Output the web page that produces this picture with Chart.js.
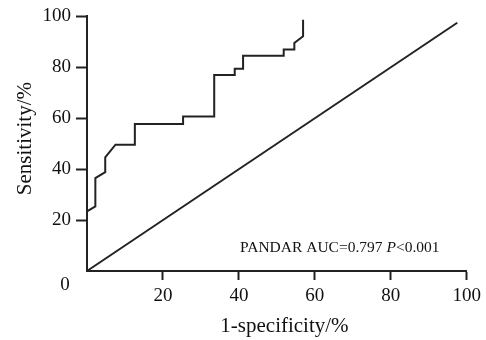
<!DOCTYPE html>
<html>
<head>
<meta charset="utf-8">
<script src="https://cdn.jsdelivr.net/npm/chart.js@4"></script>
<style>
  html, body { margin: 0; padding: 0; background: #fff; }
  #wrap { width: 486px; height: 340px; position: relative; }
</style>
</head>
<body>
<div id="wrap"><canvas id="roc"></canvas></div>
<script>
// ROC curve (1-specificity %, sensitivity %)
const fpr = [0, 2.2, 2.2, 4.8, 4.8, 7.5, 12.6, 12.6, 25.3, 25.3, 33.5, 33.5, 38.9, 38.9, 41.1, 41.1, 51.8, 51.8, 54.6, 54.6, 56.9, 56.9];
const tpr = [23.4, 25.4, 36.5, 38.8, 44.6, 49.6, 49.6, 57.7, 57.7, 60.7, 60.7, 77, 77, 79.4, 79.4, 84.5, 84.5, 87, 87, 89.6, 92.2, 98.7];

// reference line
const refX = [0, 97.5];
const refY = [0, 97.5];

const xTicks = [0, 20, 40, 60, 80, 100];
const yTicks = [0, 20, 40, 60, 80, 100];

const xTitle = "1-specificity/%";
const yTitle = "Sensitivity/%";
const aucLabel = "PANDAR AUC=0.797 ";
const pLabel = "P";
const pValue = "<0.001";

const ink = "#222";
const textInk = "#111";
const serif = "'Liberation Serif', 'DejaVu Serif', serif";

function toPoints(xs, ys) {
  return xs.map((x, i) => ({ x: x, y: ys[i] }));
}

function hideZero(ctx) {
  return ctx.tick && ctx.tick.value === 0 ? "rgba(0,0,0,0)" : ink;
}

// titles, the lone "0" and the AUC note
const textPlugin = {
  id: "rocText",
  afterDraw(chart) {
    const { ctx, scales } = chart;
    const xs = scales.x;
    const ys = scales.y;
    ctx.save();
    ctx.fillStyle = textInk;

    ctx.font = "19px " + serif;
    ctx.textAlign = "center";
    ctx.textBaseline = "middle";
    ctx.fillText("0", xs.getPixelForValue(0) - 22, ys.getPixelForValue(0) + 14);

    ctx.font = "21px " + serif;
    ctx.fillText(xTitle, xs.getPixelForValue(52), 326);

    ctx.translate(25, ys.getPixelForValue(52));
    ctx.rotate(-Math.PI / 2);
    ctx.fillText(yTitle, 0, 0);
    ctx.setTransform(1, 0, 0, 1, 0, 0);

    ctx.textAlign = "left";
    let x = xs.getPixelForValue(40.3);
    const y = ys.getPixelForValue(9.2);
    ctx.font = "15.5px " + serif;
    ctx.fillText(aucLabel, x, y);
    x += ctx.measureText(aucLabel).width;
    ctx.font = "italic 15.5px " + serif;
    ctx.fillText(pLabel, x, y);
    x += ctx.measureText(pLabel).width;
    ctx.font = "15.5px " + serif;
    ctx.fillText(pValue, x, y);
    ctx.restore();
  },
};

new Chart(document.getElementById("roc"), {
  type: "scatter",
  data: {
    datasets: [
      {
        data: toPoints(fpr, tpr),
        showLine: true,
        borderColor: ink,
        borderWidth: 2,
        pointRadius: 0,
        tension: 0,
        clip: false,
      },
      {
        data: toPoints(refX, refY),
        showLine: true,
        borderColor: ink,
        borderWidth: 2,
        pointRadius: 0,
        tension: 0,
        clip: false,
      },
    ],
  },
  options: {
    responsive: true,
    maintainAspectRatio: false,
    animation: false,
    layout: { padding: { top: 15, right: 19, left: 0, bottom: 0 } },
    plugins: {
      legend: { display: false },
      tooltip: { enabled: false },
    },
    scales: {
      x: {
        type: "linear",
        min: 0,
        max: 100,
        afterBuildTicks: (scale) => {
          scale.ticks = xTicks.map((v) => ({ value: v }));
        },
        afterFit: (scale) => {
          scale.height = 69;
        },
        border: { color: ink, width: 2 },
        grid: {
          drawOnChartArea: false,
          drawTicks: true,
          tickLength: 9,
          tickWidth: 2,
          tickColor: hideZero,
        },
        ticks: {
          color: textInk,
          font: { family: serif, size: 19 },
          padding: 5,
          maxRotation: 0,
          callback: (v) => (v === 0 ? "" : v),
        },
      },
      y: {
        type: "linear",
        min: 0,
        max: 100,
        afterBuildTicks: (scale) => {
          scale.ticks = yTicks.map((v) => ({ value: v }));
        },
        afterFit: (scale) => {
          scale.width = 87;
        },
        border: { color: ink, width: 2 },
        grid: {
          drawOnChartArea: false,
          drawTicks: true,
          tickLength: 11,
          tickWidth: 2,
          tickColor: hideZero,
        },
        ticks: {
          color: textInk,
          font: { family: serif, size: 19 },
          padding: 5,
          callback: (v) => (v === 0 ? "" : v),
        },
      },
    },
  },
  plugins: [textPlugin],
});
</script>
</body>
</html>
